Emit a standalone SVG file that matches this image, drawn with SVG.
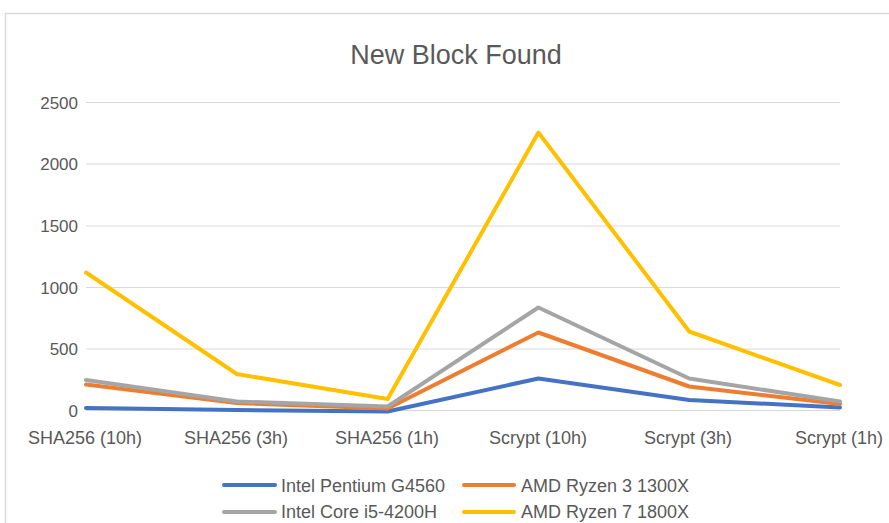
<svg xmlns="http://www.w3.org/2000/svg" width="889" height="523" viewBox="0 0 889 523">
<style>
text{font-family:"Liberation Sans",Arial,sans-serif;fill:#595959}
.grid{stroke:#D9D9D9;stroke-width:1.2;fill:none}
.ax{font-size:17px;text-anchor:end}
.cat{font-size:18px;text-anchor:middle}
.leg{font-size:18px}
.s{fill:none;stroke-width:4;stroke-linejoin:round;stroke-linecap:round}
.blue{stroke:#4472C4}.orange{stroke:#ED7D31}.gray{stroke:#A5A5A5}.yellow{stroke:#FFC000}
</style>
<rect x="0" y="0" width="889" height="523" fill="#FFFFFF"/>
<rect x="5.5" y="13.5" width="900" height="530" fill="#FFFFFF" stroke="#D9D9D9" stroke-width="1.5"/>
<text id="title" x="456" y="64" font-size="27" text-anchor="middle">New Block Found</text>
<g id="gridlines">
<line class="grid" x1="86" y1="102.5" x2="840" y2="102.5"/>
<line class="grid" x1="86" y1="164" x2="840" y2="164"/>
<line class="grid" x1="86" y1="226" x2="840" y2="226"/>
<line class="grid" x1="86" y1="287.5" x2="840" y2="287.5"/>
<line class="grid" x1="86" y1="349" x2="840" y2="349"/>
<line class="grid" x1="86" y1="410.5" x2="840" y2="410.5"/>
</g>
<g id="y-axis">
<text class="ax" x="78" y="108.5">2500</text>
<text class="ax" x="78" y="170">2000</text>
<text class="ax" x="78" y="232">1500</text>
<text class="ax" x="78" y="293.5">1000</text>
<text class="ax" x="78" y="355">500</text>
<text class="ax" x="78" y="416.5">0</text>
</g>
<g id="x-axis">
<text class="cat" x="85" y="444">SHA256 (10h)</text>
<text class="cat" x="236" y="444">SHA256 (3h)</text>
<text class="cat" x="387" y="444">SHA256 (1h)</text>
<text class="cat" x="538" y="444">Scrypt (10h)</text>
<text class="cat" x="688" y="444">Scrypt (3h)</text>
<text class="cat" x="839" y="444">Scrypt (1h)</text>
</g>
<g id="connectors">
<polyline id="series-pentium" class="s blue" points="86,408 236.8,410 387.6,411.5 538.4,378.5 689.2,400 840,407.5"/>
<polyline id="series-ryzen3" class="s orange" points="86,384.5 236.8,403 387.6,408.5 538.4,332.5 689.2,386.5 840,404"/>
<polyline id="series-i5" class="s gray" points="86,380 236.8,401.5 387.6,406.5 538.4,307.5 689.2,378.5 840,401.5"/>
<polyline id="series-ryzen7" class="s yellow" points="86,272.5 236.8,374 387.6,399 538.4,132.5 689.2,331.5 840,385"/>
</g>
<g id="legend">
<g id="leg-pentium"><line class="s blue" x1="224" y1="485" x2="275" y2="485"/><text class="leg" x="281" y="491.5">Intel Pentium G4560</text></g>
<g id="leg-ryzen3"><line class="s orange" x1="464" y1="485" x2="514" y2="485"/><text class="leg" x="521" y="491.5">AMD Ryzen 3 1300X</text></g>
<g id="leg-i5"><line class="s gray" x1="224" y1="512" x2="275" y2="512"/><text class="leg" x="281" y="518">Intel Core i5-4200H</text></g>
<g id="leg-ryzen7"><line class="s yellow" x1="464" y1="512" x2="514" y2="512"/><text class="leg" x="521" y="518">AMD Ryzen 7 1800X</text></g>
</g>
</svg>
